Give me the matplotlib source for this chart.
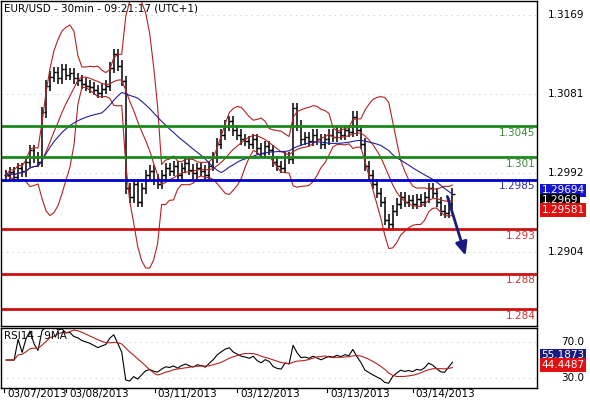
import matplotlib
matplotlib.use("Agg")
import matplotlib.pyplot as plt
import numpy as np
import pandas as pd

closes = [1.2990,1.2993,1.2988,1.2998,1.2994,1.3005,
          1.3018,1.3010,1.3005,
          1.3060,1.3090,1.3100,1.3105,1.3098,
          1.3108,1.3102,1.3104,1.3098,1.3096,1.3092,1.3090,1.3088,1.3085,1.3082,1.3086,
          1.3090,1.3110,1.3125,1.3112,1.3095,
          1.2975,1.2965,1.2980,1.2960,1.2975,
          1.2990,1.2995,1.2985,1.2980,1.2990,
          1.2998,1.2995,1.3000,1.2990,1.2998,1.3003,1.2996,1.2992,1.2998,1.2995,1.2990,1.3000,
          1.3010,1.3025,1.3035,1.3045,1.3050,1.3040,
          1.3035,1.3030,1.3028,1.3025,1.3030,1.3020,1.3015,1.3022,1.3018,
          1.3005,1.3000,1.2998,1.3010,1.3008,
          1.3065,1.3045,1.3030,
          1.3032,1.3028,1.3035,1.3030,1.3025,1.3030,1.3035,1.3033,1.3038,1.3035,1.3040,1.3038,
          1.3055,1.3040,1.3025,
          1.3000,1.2990,1.2980,1.2970,1.2960,
          1.2940,1.2935,1.2950,
          1.2958,1.2965,1.2960,1.2962,1.2958,1.2963,1.2960,1.2965,
          1.2975,1.2970,1.2960,
          1.2950,1.2948,1.2958,1.2969]
green_levels = [1.3045, 1.301]
blue_levels = [1.2985]
red_levels = [1.293, 1.288, 1.284]
price_ticks = [1.3169, 1.3081, 1.2992, 1.2904]
rsi_ticks = [70.0, 30.0]
date_labels = ["03/07/2013", "03/08/2013", "03/11/2013", "03/12/2013", "03/13/2013", "03/14/2013"]
date_pos = [-0.5, 15, 37.25, 58, 80.5, 102]
tag_values = ["1.29694", "1.2969", "1.29581"]
rsi_tags = ["55.1873", "44.4487"]

c = pd.Series(closes)
n = len(c)
x = np.arange(n)
opens = c.shift(1).fillna(c.iloc[0])
hi = np.maximum(opens, c) + 0.0006
lo = np.minimum(opens, c) - 0.0006
mid = c.rolling(10, min_periods=1).mean()
sd = c.rolling(10, min_periods=1).std().fillna(0)
ma = c.rolling(25, min_periods=1).mean()
d = c.diff().fillna(0)
up = d.clip(lower=0).ewm(alpha=1/14, adjust=False).mean()
dn = (-d.clip(upper=0)).ewm(alpha=1/14, adjust=False).mean()
rsi = 100 - 100 / (1 + up / dn.replace(0, 1e-9))
rsi = rsi.where(x > 2, 50)
rsi_ma = rsi.rolling(9, min_periods=1).mean()

W, H = 590, 400
fig = plt.figure(figsize=(5.9, 4.0), dpi=100)
ax = fig.add_axes([0.002, 1 - 326 / H, 536 / W, 326 / H - 0.002])
ax2 = fig.add_axes([0.002, 1 - 388 / H, 536 / W, 60 / H])
xl = (-1.25, 133.25)
for a in (ax, ax2):
    a.set_xlim(*xl)
    a.set_xticks([])
    a.set_yticks([])
    for s in a.spines.values():
        s.set_linewidth(1)
ax.set_ylim(1.28214, 1.31846)
ax2.set_ylim(18.9, 85.6)

for t in price_ticks:
    ax.axhline(t, color="#cccccc", ls=(0, (1, 4)), lw=0.8)
for t in rsi_ticks:
    ax2.axhline(t, color="#cccccc", ls=(0, (1, 4)), lw=0.8)

ax.vlines(x, lo, hi, color="black", lw=1.1)
ax.hlines(opens, x - 0.6, x, color="black", lw=1)
ax.hlines(c, x, x + 0.6, color="black", lw=1)
ax.plot(x, mid + 2 * sd, color="#b22222", lw=0.8)
ax.plot(x, mid - 2 * sd, color="#b22222", lw=0.8)
ax.plot(x, mid, color="#b22222", lw=0.8)
ax.plot(x, ma, color="#2020a0", lw=0.8)

for v in green_levels:
    ax.axhline(v, color="#1a8a1a", lw=2)
    ax.text(0.997, v - 0.0002, str(v), transform=ax.get_yaxis_transform(),
            ha="right", va="top", color="#3a8a3a", fontsize=7.5)
for v in blue_levels:
    ax.axhline(v, color="#0000cc", lw=2)
    ax.text(0.997, v - 0.0002, str(v), transform=ax.get_yaxis_transform(),
            ha="right", va="top", color="#3030b0", fontsize=7.5)
for v in red_levels:
    ax.axhline(v, color="#cc1111", lw=2)
    ax.text(0.997, v - 0.0002, str(v), transform=ax.get_yaxis_transform(),
            ha="right", va="top", color="#cc3333", fontsize=7.5)

ax.annotate("", xy=(115.5, 1.2897), xytext=(110.5, 1.2969),
            arrowprops=dict(arrowstyle="-|>,head_width=0.35,head_length=0.8",
                            color="#1a1a80", lw=2))

ax.text(0.006, 0.993, "EUR/USD - 30min - 09:21:17 (UTC+1)", transform=ax.transAxes,
        ha="left", va="top", fontsize=7.5)
ax2.text(0.006, 0.95, "RSI14 - 9MA", transform=ax2.transAxes,
         ha="left", va="top", fontsize=7.5)

ax2.plot(x, rsi, color="black", lw=0.8)
ax2.plot(x, rsi_ma, color="#b22222", lw=0.8)

for t in price_ticks:
    ax.text(1.02, t, f"{t:.4f}", transform=ax.get_yaxis_transform(), ha="left",
            va="center", fontsize=7.5, clip_on=False)
for t in rsi_ticks:
    ax2.text(1.045, t, f"{t:.1f}", transform=ax2.get_yaxis_transform(), ha="left",
             va="center", fontsize=7.5, clip_on=False)

tag_y = [1.2973, 1.2962, 1.2951]
tag_col = ["#1515d0", "black", "#e01010"]
for s, yv, col in zip(tag_values, tag_y, tag_col):
    ax.text(1.008, yv, s, transform=ax.get_yaxis_transform(), ha="left", va="center",
            fontsize=7.5, color="white", clip_on=False,
            bbox=dict(boxstyle="square,pad=0.15", fc=col, ec="none"))
for s, yv, col in zip(rsi_tags, [55.2, 44.4], ["#1a1a80", "#e01010"]):
    ax2.text(1.008, yv, s, transform=ax2.get_yaxis_transform(), ha="left", va="center",
             fontsize=7.5, color="white", clip_on=False,
             bbox=dict(boxstyle="square,pad=0.15", fc=col, ec="none"))

for p, lab in zip(date_pos, date_labels):
    ax2.plot([p, p], [18.9, 15], color="black", lw=0.8, clip_on=False)
    ax2.text(p + 0.8, -0.02, lab, transform=ax2.get_xaxis_transform(), ha="left",
             va="top", fontsize=7.5)

fig.savefig("out.png", dpi=100)
